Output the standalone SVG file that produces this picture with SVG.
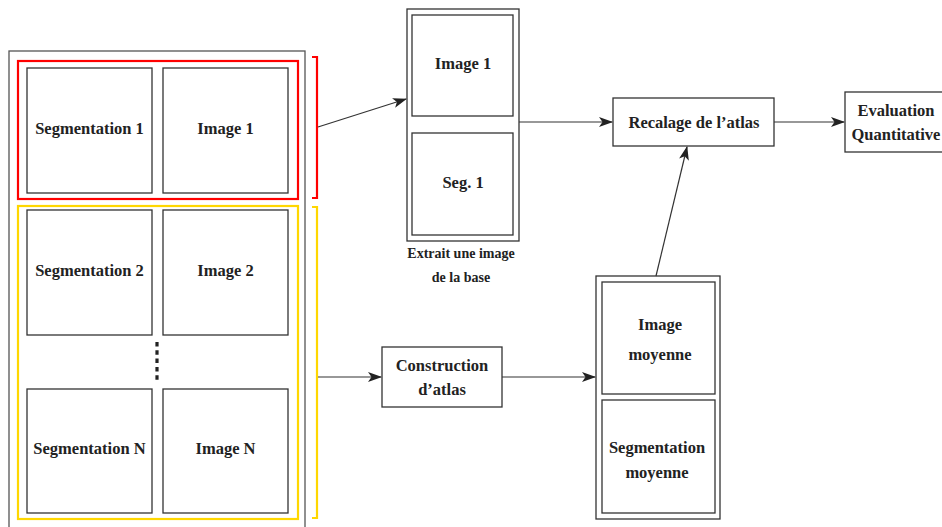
<svg xmlns="http://www.w3.org/2000/svg" width="942" height="527" viewBox="0 0 942 527">
<style>
  .box { fill: #fff; stroke: #333; stroke-width: 1.3; }
  .outer { fill: none; stroke: #555; stroke-width: 1.3; }
  .t { font-family: "Liberation Serif", "Times New Roman", serif; font-weight: bold; font-size: 16.5px; fill: #222; text-anchor: middle; }
  .s { font-size: 14px; }
  .conn { fill: none; stroke: #333; stroke-width: 1.2; }
</style>
<defs>
  <marker id="arr" viewBox="0 0 14 10" refX="13" refY="5" markerWidth="14" markerHeight="10" markerUnits="userSpaceOnUse" orient="auto">
    <path d="M0,0 L14,5 L0,10 L3.5,5 Z" fill="#222"/>
  </marker>
</defs>
<rect width="942" height="527" fill="#fff"/>

<g id="database">
  <rect class="outer" x="9" y="51" width="296" height="490"/>
  <rect x="18" y="61" width="280" height="138" fill="none" stroke="#f00" stroke-width="2.2"/>
  <rect x="18" y="206" width="280" height="313" fill="none" stroke="#ffd700" stroke-width="2.2"/>
  <path d="M312,57 H317 V198 H312" fill="none" stroke="#f00" stroke-width="2.2"/>
  <path d="M312,207 H317 V518 H312" fill="none" stroke="#ffd700" stroke-width="2.2"/>
  <g id="seg1"><rect class="box" x="27" y="68" width="125" height="125"/><text class="t" x="89.5" y="134">Segmentation 1</text></g>
  <g id="img1"><rect class="box" x="163" y="68" width="125" height="125"/><text class="t" x="225.5" y="134">Image 1</text></g>
  <g id="seg2"><rect class="box" x="27" y="210" width="125" height="125"/><text class="t" x="89.5" y="276">Segmentation 2</text></g>
  <g id="img2"><rect class="box" x="163" y="210" width="125" height="125"/><text class="t" x="225.5" y="276">Image 2</text></g>
  <g id="segN"><rect class="box" x="27" y="389" width="125" height="124"/><text class="t" x="89.5" y="454">Segmentation N</text></g>
  <g id="imgN"><rect class="box" x="163" y="389" width="125" height="124"/><text class="t" x="225.5" y="454">Image N</text></g>
  <line x1="157" y1="342" x2="157" y2="383" stroke="#222" stroke-width="3.2" stroke-dasharray="4.5,3.8"/>
</g>

<g id="extract">
  <rect class="box" x="407" y="9" width="112" height="232"/>
  <rect class="box" x="412" y="15" width="101" height="101"/>
  <rect class="box" x="412" y="133" width="101" height="102"/>
  <text class="t" x="463" y="69">Image 1</text>
  <text class="t" x="463" y="188">Seg. 1</text>
  <text class="t s" x="461" y="258">Extrait une image</text>
  <text class="t s" x="461" y="282">de la base</text>
</g>

<g id="recalage">
  <rect class="box" x="613" y="98" width="161" height="48"/>
  <text class="t" x="694" y="128">Recalage de l’atlas</text>
</g>

<g id="evaluation">
  <rect class="box" x="845" y="92" width="100" height="60"/>
  <text class="t" x="896" y="116">Evaluation</text>
  <text class="t" x="896" y="140">Quantitative</text>
</g>

<g id="construction">
  <rect class="box" x="382" y="347" width="120" height="60"/>
  <text class="t" x="442" y="371">Construction</text>
  <text class="t" x="442" y="395">d’atlas</text>
</g>

<g id="atlas">
  <rect class="box" x="596" y="276" width="124" height="243"/>
  <rect class="box" x="602" y="282" width="113" height="112"/>
  <rect class="box" x="602" y="400" width="113" height="113"/>
  <text class="t" x="660" y="330">Image</text>
  <text class="t" x="660" y="360">moyenne</text>
  <text class="t" x="657" y="453">Segmentation</text>
  <text class="t" x="657" y="478">moyenne</text>
</g>

<g id="connectors">
  <line class="conn" x1="318" y1="127" x2="406" y2="99" marker-end="url(#arr)"/>
  <line class="conn" x1="519" y1="122" x2="612" y2="122" marker-end="url(#arr)"/>
  <line class="conn" x1="774" y1="122" x2="844" y2="122" marker-end="url(#arr)"/>
  <line class="conn" x1="656" y1="276" x2="687" y2="147" marker-end="url(#arr)"/>
  <line class="conn" x1="318" y1="377" x2="381" y2="377" marker-end="url(#arr)"/>
  <line class="conn" x1="502" y1="377" x2="595" y2="377" marker-end="url(#arr)"/>
</g>
</svg>
